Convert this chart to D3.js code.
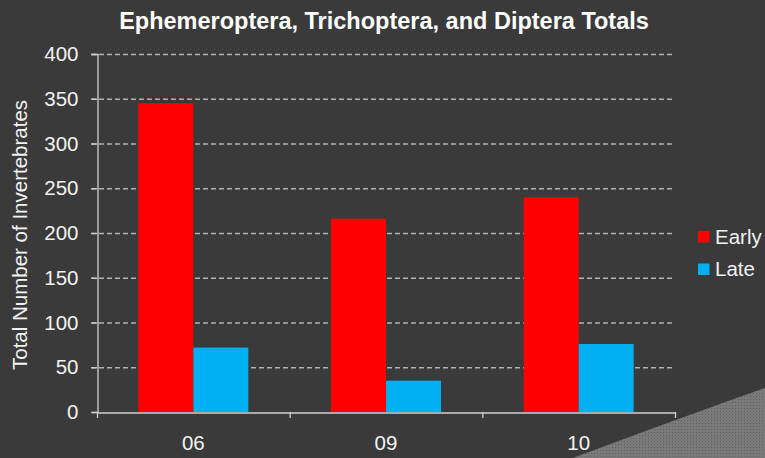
<!DOCTYPE html>
<html>
<head>
<meta charset="utf-8">
<script src="https://cdn.jsdelivr.net/npm/d3@7/dist/d3.min.js"></script>
<style>
  html, body { margin: 0; padding: 0; background: #3a3a3a; }
  svg { display: block; font-family: Arial, "Liberation Sans", sans-serif; }
</style>
</head>
<body>
<div class="board"></div>
<script>
// values
var years = ['06', '09', '10'];
var seriesNames = ['Early', 'Late'];
var earlyTotals = [345, 216, 240];
var lateTotals = [72, 35, 76];
var yTicks = [0, 50, 100, 150, 200, 250, 300, 350, 400];

var colors = { Early: '#ff0000', Late: '#00b0f0' };

var opts = {
  width: 765,
  height: 458,
  left: 97,
  right: 675,
  top: 54,
  bottom: 412
};

var svg = d3.select('.board')
  .append('svg')
  .attr('width', opts.width)
  .attr('height', opts.height);

var defs = svg.append('defs');
var pat = defs.append('pattern')
  .attr('id', 'dots')
  .attr('width', 3)
  .attr('height', 3)
  .attr('patternUnits', 'userSpaceOnUse');
pat.append('rect').attr('width', 3).attr('height', 3).attr('fill', '#7a7a7a');
pat.append('rect').attr('width', 1).attr('height', 1).attr('fill', '#606060');

svg.append('rect')
  .attr('width', opts.width)
  .attr('height', opts.height)
  .attr('fill', '#3a3a3a');

// page curl in the lower right corner
svg.append('path')
  .attr('d', 'M573,458 Q672,421 765,388 L765,458 Z')
  .attr('fill', 'url(#dots)');

var x = d3.scaleBand().domain(years).range([opts.left, opts.right]);
var x1 = d3.scaleBand().domain(seriesNames).range([0, 110]);
var y = d3.scaleLinear().domain([0, 400]).range([opts.bottom, opts.top]);

// grid lines
svg.append('g')
  .selectAll('line')
  .data(yTicks.slice(1))
  .enter().append('line')
  .attr('x1', opts.left - 6)
  .attr('x2', opts.right)
  .attr('y1', function(d) { return y(d) + 0.5; })
  .attr('y2', function(d) { return y(d) + 0.5; })
  .attr('stroke', '#b0b0b0')
  .attr('stroke-width', 1.3)
  .attr('stroke-dasharray', '5,3');

var rows = years.map(function(yr, i) {
  return { year: yr, Early: earlyTotals[i], Late: lateTotals[i] };
});

var groups = svg.append('g')
  .selectAll('g')
  .data(rows)
  .enter().append('g')
  .attr('transform', function(d) {
    return 'translate(' + (x(d.year) + x.bandwidth() / 2 - 55) + ',0)';
  });

groups.selectAll('rect')
  .data(function(d) {
    return seriesNames.map(function(s) { return { key: s, value: d[s] }; });
  })
  .enter().append('rect')
  .attr('x', function(d) { return x1(d.key); })
  .attr('width', x1.bandwidth())
  .attr('y', function(d) { return y(d.value); })
  .attr('height', function(d) { return opts.bottom - y(d.value); })
  .attr('fill', function(d) { return colors[d.key]; });

// y axis
var yAxis = svg.append('g')
  .attr('transform', 'translate(' + (opts.left + 0.5) + ',0)')
  .call(d3.axisLeft(y).tickValues(yTicks).tickSize(6).tickPadding(13));
yAxis.select('.domain').attr('stroke', '#d0d0d0').attr('stroke-width', 1.3);
yAxis.selectAll('.tick line').attr('stroke', '#d0d0d0').attr('stroke-width', 1.3);
yAxis.selectAll('.tick text')
  .attr('fill', '#f2f2f2')
  .attr('font-size', 20.5)
  .attr('font-family', 'Arial, "Liberation Sans", sans-serif');

// x axis
var xAxis = svg.append('g')
  .attr('transform', 'translate(0,' + (opts.bottom + 0.5) + ')')
  .call(d3.axisBottom(x).tickSize(0).tickPadding(23));
xAxis.select('.domain').attr('stroke', '#d0d0d0').attr('stroke-width', 1.3);
xAxis.selectAll('.tick text')
  .attr('fill', '#f2f2f2')
  .attr('font-size', 20.5)
  .attr('font-family', 'Arial, "Liberation Sans", sans-serif');

// category separators on the x axis
svg.append('g')
  .selectAll('line')
  .data(years.concat(['end']))
  .enter().append('line')
  .attr('x1', function(d, i) { return i < years.length ? x(d) + 0.5 : opts.right + 0.5; })
  .attr('x2', function(d, i) { return i < years.length ? x(d) + 0.5 : opts.right + 0.5; })
  .attr('y1', opts.bottom)
  .attr('y2', opts.bottom + 6)
  .attr('stroke', '#d0d0d0')
  .attr('stroke-width', 1.3);

// title
svg.append('text')
  .attr('x', 384)
  .attr('y', 29)
  .attr('text-anchor', 'middle')
  .attr('fill', '#ffffff')
  .attr('font-size', 23.5)
  .attr('font-weight', 'bold')
  .text('Ephemeroptera, Trichoptera, and Diptera Totals');

// y axis label
svg.append('text')
  .attr('transform', 'translate(27,235) rotate(-90)')
  .attr('text-anchor', 'middle')
  .attr('fill', '#f2f2f2')
  .attr('font-size', 20.5)
  .text('Total Number of Invertebrates');

// legend
var legend = svg.append('g')
  .selectAll('g')
  .data(seriesNames)
  .enter().append('g')
  .attr('transform', function(d, i) { return 'translate(698,' + (231 + i * 32.5) + ')'; });

legend.append('rect')
  .attr('width', 11.5)
  .attr('height', 11.5)
  .attr('fill', function(d) { return colors[d]; });

legend.append('text')
  .attr('x', 17)
  .attr('y', 12.5)
  .attr('fill', '#f2f2f2')
  .attr('font-size', 20.5)
  .text(function(d) { return d; });
</script>
</body>
</html>
